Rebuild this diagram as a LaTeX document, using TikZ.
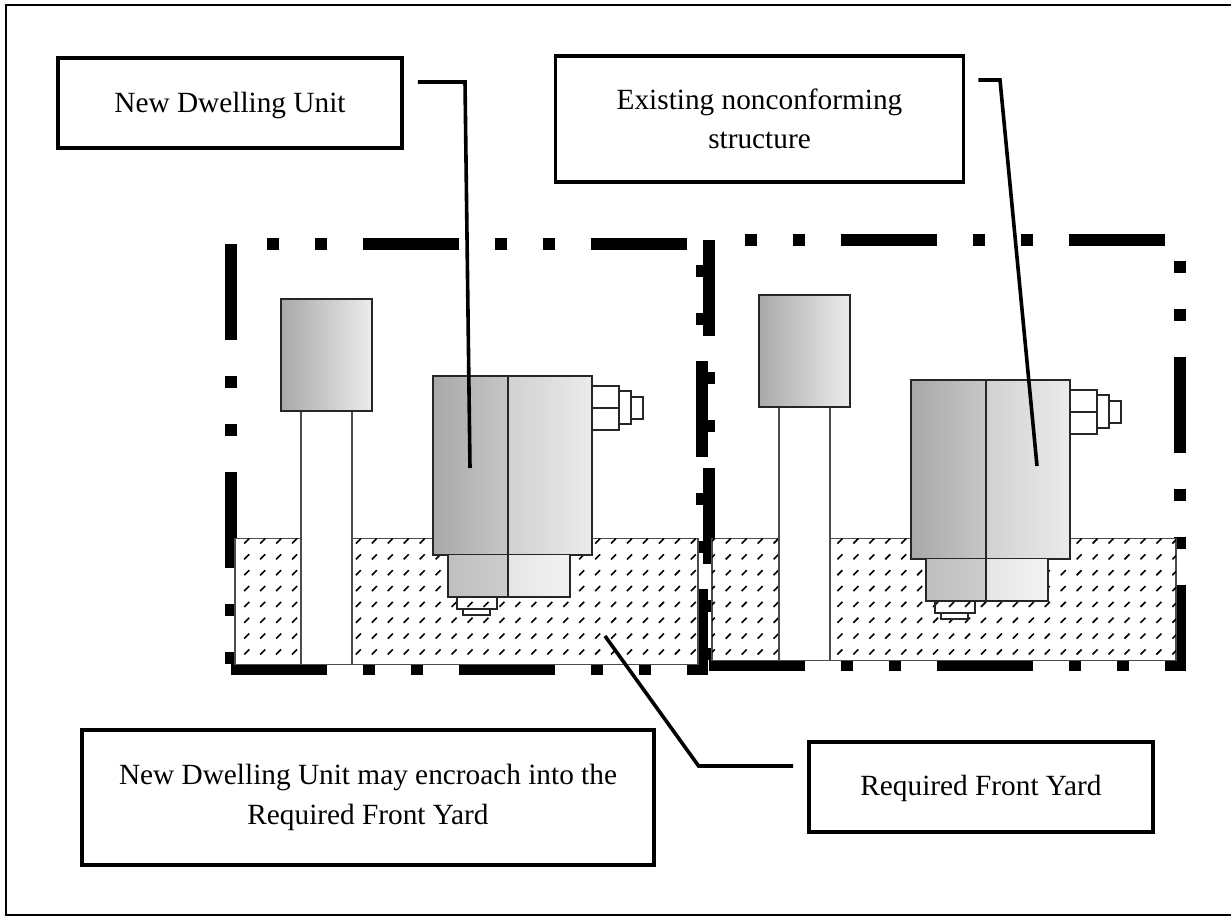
\documentclass[tikz,border=0pt]{standalone}
\usepackage{fontspec}
\setmainfont{Liberation Serif}
\usepackage{tikz}
\usetikzlibrary{calc}
\definecolor{dkA}{gray}{.66}
\definecolor{dkB}{gray}{.78}
\definecolor{ltA}{gray}{.82}
\definecolor{ltB}{gray}{.92}
\tikzset{
	lotline/.style={line width=6pt, dash pattern=on 48pt off 18pt on 6pt off 18pt on 6pt off 18pt},
	legend/.style={rectangle, draw=black, line width=1.9pt, fill=white, align=center, font=\fontsize{14.65}{19.6}\selectfont},
	leader/.style={line width=1.8pt, line join=miter},
	partline/.style={draw=black!85, line width=1pt},
	thinpart/.style={draw=black!70, line width=.7pt, fill=white},
}
% one lot boundary, drawn from its top left corner
\newcommand{\lotframe}[2]{
		\draw[lotline, dash phase=48pt] (230.5+#1,244+#2) -- (702+#1,244+#2) -- (702+#1,669+#2) -- (230.5+#1,669+#2);
		\draw[lotline] (230.5+#1,244+#2) -- (230.5+#1,669+#2);
}
% front yard with its marks
\newcommand{\yardpart}[5]{
		\draw[draw=black!70, line width=.6pt, fill=white] (#1,#3) rectangle (#2,#4);
		\begin{scope}
		\clip (#1,#3) rectangle (#2,#4);
		\foreach \c in {0,...,29} \foreach \r in {0,...,7}
			\draw[line width=.8pt] (#5+\c*15.95-2.5,541+\r*15.85+2.5) -- ++(5,-5);
		\end{scope}
}
% tree and driveway
\newcommand{\lanepart}[3]{
		\draw[thinpart] (301+#1,411+#2) -- (301+#1,#3) -- (352+#1,#3) -- (352+#1,411+#2);
		\shadedraw[partline, left color=dkA, right color=ltB!95!white] (280.5+#1,299+#2) rectangle (371.5+#1,411+#2);
}
% the building
\newcommand{\housepart}[2]{
		\begin{scope}[shift={(#1,#2)}]
		\draw[partline, fill=white] (591.5,386) rectangle (619,429.5);
		\draw[partline] (591.5,407.7) -- (619,407.7);
		\draw[partline, fill=white] (619,391) rectangle (631,424);
		\draw[partline, fill=white] (631,397) rectangle (643,418.7);
		\shade[left color=dkA, right color=dkB] (433,376) rectangle (508,555);
		\shade[left color=ltA, right color=ltB] (508,376) rectangle (591.5,555);
		\draw[partline] (433,376) rectangle (591.5,555) (508,376) -- (508,555);
		\shade[left color=black!25, right color=black!20] (447.5,555) rectangle (508,597);
		\shade[left color=black!10, right color=black!5] (508,555) rectangle (570,597);
		\draw[partline] (447.5,555) -- (447.5,597) -- (570,597) -- (570,555) (508,555) -- (508,597);
		\draw[partline] (457,597) rectangle (497,609.3);
		\draw[partline, fill=white] (463,609.3) rectangle (490,615);
		\end{scope}
}

\begin{document}
\begin{tikzpicture}[x=.5pt,y=-.5pt]
		\useasboundingbox (0,0) rectangle (1231,916);
		\draw[line width=1pt] (1231,5) -- (6,5) -- (6,915) -- (1231,915);
		\lotframe{0}{0}
		\lotframe{478}{-4}
		\yardpart{235}{698}{538.3}{664.3}{230.8}
		\yardpart{712}{1176}{538.3}{660.3}{712.3}
		\lanepart{0}{0}{664.3}
		\lanepart{478}{-4}{660.3}
		\housepart{0}{0}
		\housepart{478}{4}
		\node[legend, minimum width=172pt, minimum height=45pt, text height=13pt] (newBox) at (230,103) {New Dwelling Unit};
		\node[legend, minimum width=204pt, minimum height=63pt] (oldBox) at (759.5,119) {Existing nonconforming\\structure};
		\node[legend, minimum width=286pt, minimum height=67.5pt] (mayBox) at (368,797.5) {New Dwelling Unit may encroach into the\\Required Front Yard};
		\node[legend, minimum width=172pt, minimum height=45pt, text height=12pt] (yardBox) at (981,787) {Required Front Yard};
		\coordinate (newBend) at (465,82);
		\coordinate (newTip) at (470,468);
		\coordinate (oldBend) at (1000,80);
		\coordinate (oldTip) at (1037,466);
		\coordinate (yardBend) at (698.6,766);
		\coordinate (yardTip) at (605,636);
		\draw[leader] ($(newBox.east)+(14,-21)$) -- (newBend) -- (newTip);
		\draw[leader] ($(oldBox.east)+(13,-39)$) -- (oldBend) -- (oldTip);
		\draw[leader] ($(yardBox.west)+(-14,-21)$) -- (yardBend) -- (yardTip);
\end{tikzpicture}
\end{document}
